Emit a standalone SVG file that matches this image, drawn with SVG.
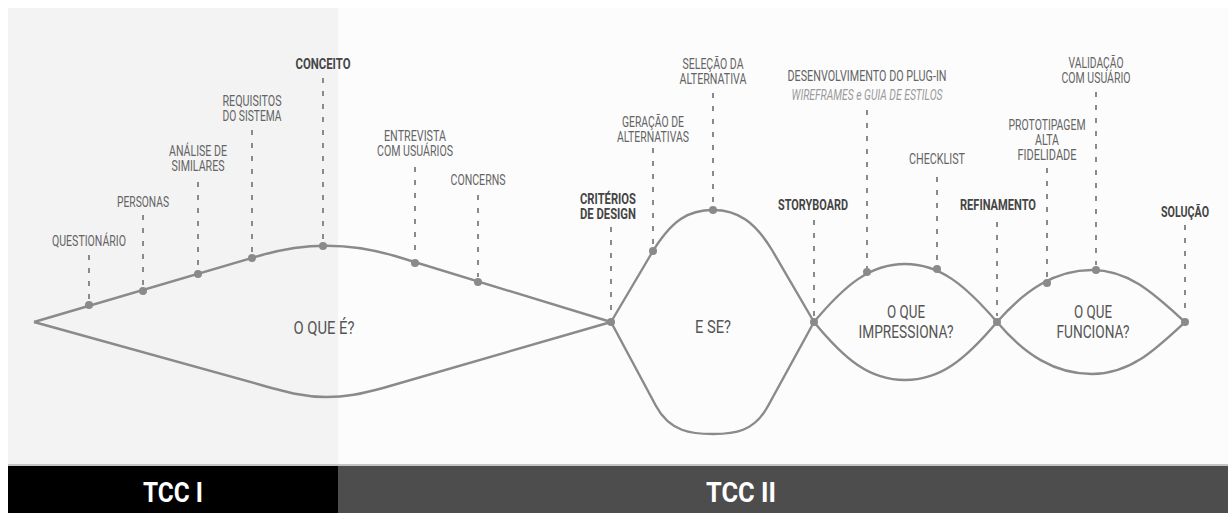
<svg xmlns="http://www.w3.org/2000/svg" width="1228" height="513" viewBox="0 0 1228 513">
  <style>
    text { font-family: Roboto, "Liberation Sans", sans-serif; text-anchor: middle; }
    .lbl { font-size: 15.5px; fill: #646464; }
    .key { font-size: 15.5px; font-weight: bold; fill: #454545; }
    .note { font-size: 14.5px; font-style: italic; fill: #9a9a9a; }
    .phase { font-size: 18px; fill: #555555; }
    .bar { font-size: 28px; font-weight: bold; fill: #ffffff; }
    .curve { fill: none; stroke: #8a8a8a; stroke-width: 2.4; stroke-linejoin: round; }
    .tick { stroke: #8a8a8a; stroke-width: 2; stroke-dasharray: 5 8; }
    .dot { fill: #8a8a8a; }
  </style>

  <!-- backgrounds -->
  <rect x="0" y="0" width="1228" height="513" fill="#ffffff"/>
  <rect x="8" y="8" width="330" height="457" fill="#f3f3f3"/>
  <rect x="338" y="8" width="890" height="457" fill="#fcfcfc"/>
  <rect x="8" y="464" width="1220" height="2" fill="#c4c4c4"/>

  <!-- phase bar -->
  <g id="tcc1">
    <rect x="8" y="466" width="330" height="47" fill="#000000"/>
    <text class="bar" x="173" y="502" textLength="60" lengthAdjust="spacingAndGlyphs">TCC I</text>
  </g>
  <g id="tcc2">
    <rect x="338" y="466" width="890" height="47" fill="#4d4d4d"/>
    <text class="bar" x="741" y="502" textLength="70" lengthAdjust="spacingAndGlyphs">TCC II</text>
  </g>

  <!-- diverge / converge curves -->
  <g id="connectors">
    <path class="curve" d="M34,322 L262,255 C300,244 345,241 395,256 L611,322"/>
    <path class="curve" d="M34,322 L261,385 C290,393 305,397 326,397 C346,397 361,394 383,388 L611,322"/>
    <path class="curve" d="M611,322 L650,256 C672,218 690,210 713,210 C738,210 755,222 772,250 L814,322"/>
    <path class="curve" d="M611,322 L656,406 C670,432 692,434 713,434 C734,434 754,432 768,406 L814,322"/>
    <path class="curve" d="M814,322 C845,285 870,264 905,264 C940,264 965,285 997,322"/>
    <path class="curve" d="M814,322 C845,360 870,380 905,380 C940,380 965,360 997,322"/>
    <path class="curve" d="M997,322 C1025,290 1055,270 1092,270 C1130,270 1155,295 1185,322"/>
    <path class="curve" d="M997,322 C1025,355 1055,374 1092,374 C1130,374 1155,350 1185,322"/>
  </g>

  <!-- phase questions -->
  <g id="phase-o-que-e">
    <text class="phase" x="324" y="334" textLength="61" lengthAdjust="spacingAndGlyphs">O QUE É?</text>
  </g>
  <g id="phase-e-se">
    <text class="phase" x="713" y="333" textLength="36" lengthAdjust="spacingAndGlyphs">E SE?</text>
  </g>
  <g id="phase-impressiona">
    <text class="phase" x="906" y="318" textLength="38" lengthAdjust="spacingAndGlyphs">O QUE</text>
    <text class="phase" x="906" y="338" textLength="95" lengthAdjust="spacingAndGlyphs">IMPRESSIONA?</text>
  </g>
  <g id="phase-funciona">
    <text class="phase" x="1093" y="318" textLength="38" lengthAdjust="spacingAndGlyphs">O QUE</text>
    <text class="phase" x="1093" y="338" textLength="73" lengthAdjust="spacingAndGlyphs">FUNCIONA?</text>
  </g>

  <!-- milestones -->
  <g id="questionario">
    <line class="tick" x1="89" y1="255" x2="89" y2="300"/>
    <circle class="dot" cx="89" cy="305" r="4"/>
    <text class="lbl" x="89" y="246" textLength="74" lengthAdjust="spacingAndGlyphs">QUESTIONÁRIO</text>
  </g>
  <g id="personas">
    <line class="tick" x1="143" y1="215" x2="143" y2="286"/>
    <circle class="dot" cx="143" cy="291" r="4"/>
    <text class="lbl" x="143" y="207" textLength="52" lengthAdjust="spacingAndGlyphs">PERSONAS</text>
  </g>
  <g id="analise-similares">
    <line class="tick" x1="198" y1="182" x2="198" y2="269"/>
    <circle class="dot" cx="198" cy="274" r="4"/>
    <text class="lbl" x="198" y="156" textLength="58" lengthAdjust="spacingAndGlyphs">ANÁLISE DE</text>
    <text class="lbl" x="198" y="171" textLength="53" lengthAdjust="spacingAndGlyphs">SIMILARES</text>
  </g>
  <g id="requisitos">
    <line class="tick" x1="252" y1="130" x2="252" y2="253"/>
    <circle class="dot" cx="252" cy="258" r="4"/>
    <text class="lbl" x="252" y="106" textLength="59" lengthAdjust="spacingAndGlyphs">REQUISITOS</text>
    <text class="lbl" x="252" y="121" textLength="59" lengthAdjust="spacingAndGlyphs">DO SISTEMA</text>
  </g>
  <g id="conceito">
    <line class="tick" x1="323" y1="78" x2="323" y2="241"/>
    <circle class="dot" cx="323" cy="246" r="4"/>
    <text class="key" x="323" y="69" textLength="55" lengthAdjust="spacingAndGlyphs">CONCEITO</text>
  </g>
  <g id="entrevista">
    <line class="tick" x1="415" y1="167" x2="415" y2="258"/>
    <circle class="dot" cx="415" cy="263" r="4"/>
    <text class="lbl" x="415" y="141" textLength="62" lengthAdjust="spacingAndGlyphs">ENTREVISTA</text>
    <text class="lbl" x="415" y="156" textLength="76" lengthAdjust="spacingAndGlyphs">COM USUÁRIOS</text>
  </g>
  <g id="concerns">
    <line class="tick" x1="478" y1="195" x2="478" y2="277"/>
    <circle class="dot" cx="478" cy="282" r="4"/>
    <text class="lbl" x="478" y="185" textLength="55" lengthAdjust="spacingAndGlyphs">CONCERNS</text>
  </g>
  <g id="criterios">
    <line class="tick" x1="611" y1="227" x2="611" y2="316"/>
    <circle class="dot" cx="611" cy="322" r="4"/>
    <text class="key" x="608" y="204" textLength="56" lengthAdjust="spacingAndGlyphs">CRITÉRIOS</text>
    <text class="key" x="608" y="219" textLength="56" lengthAdjust="spacingAndGlyphs">DE DESIGN</text>
  </g>
  <g id="geracao">
    <line class="tick" x1="653" y1="148" x2="653" y2="245"/>
    <circle class="dot" cx="653" cy="251" r="4"/>
    <text class="lbl" x="653" y="127" textLength="62" lengthAdjust="spacingAndGlyphs">GERAÇÃO DE</text>
    <text class="lbl" x="653" y="142" textLength="72" lengthAdjust="spacingAndGlyphs">ALTERNATIVAS</text>
  </g>
  <g id="selecao">
    <line class="tick" x1="713" y1="93" x2="713" y2="205"/>
    <circle class="dot" cx="713" cy="210" r="4"/>
    <text class="lbl" x="713" y="69" textLength="61" lengthAdjust="spacingAndGlyphs">SELEÇÃO DA</text>
    <text class="lbl" x="713" y="84" textLength="67" lengthAdjust="spacingAndGlyphs">ALTERNATIVA</text>
  </g>
  <g id="storyboard">
    <line class="tick" x1="814" y1="220" x2="814" y2="316"/>
    <circle class="dot" cx="814" cy="322" r="4"/>
    <text class="key" x="813" y="210" textLength="70" lengthAdjust="spacingAndGlyphs">STORYBOARD</text>
  </g>
  <g id="plugin">
    <line class="tick" x1="867" y1="110" x2="867" y2="268"/>
    <circle class="dot" cx="867" cy="272" r="4"/>
    <text class="lbl" x="867" y="81" textLength="159" lengthAdjust="spacingAndGlyphs">DESENVOLVIMENTO DO PLUG-IN</text>
    <text class="note" x="867" y="100" textLength="151" lengthAdjust="spacingAndGlyphs">WIREFRAMES e GUIA DE ESTILOS</text>
  </g>
  <g id="checklist">
    <line class="tick" x1="937" y1="177" x2="937" y2="264"/>
    <circle class="dot" cx="937" cy="269" r="4"/>
    <text class="lbl" x="937" y="164" textLength="56" lengthAdjust="spacingAndGlyphs">CHECKLIST</text>
  </g>
  <g id="refinamento">
    <line class="tick" x1="997" y1="222" x2="997" y2="316"/>
    <circle class="dot" cx="997" cy="322" r="4"/>
    <text class="key" x="998" y="210" textLength="76" lengthAdjust="spacingAndGlyphs">REFINAMENTO</text>
  </g>
  <g id="prototipagem">
    <line class="tick" x1="1047" y1="168" x2="1047" y2="278"/>
    <circle class="dot" cx="1047" cy="283" r="4"/>
    <text class="lbl" x="1047" y="130" textLength="77" lengthAdjust="spacingAndGlyphs">PROTOTIPAGEM</text>
    <text class="lbl" x="1047" y="145" textLength="24" lengthAdjust="spacingAndGlyphs">ALTA</text>
    <text class="lbl" x="1047" y="160" textLength="59" lengthAdjust="spacingAndGlyphs">FIDELIDADE</text>
  </g>
  <g id="validacao">
    <line class="tick" x1="1096" y1="92" x2="1096" y2="265"/>
    <circle class="dot" cx="1096" cy="270" r="4"/>
    <text class="lbl" x="1096" y="68" textLength="55" lengthAdjust="spacingAndGlyphs">VALIDAÇÃO</text>
    <text class="lbl" x="1096" y="83" textLength="69" lengthAdjust="spacingAndGlyphs">COM USUÁRIO</text>
  </g>
  <g id="solucao">
    <line class="tick" x1="1185" y1="225" x2="1185" y2="316"/>
    <circle class="dot" cx="1185" cy="322" r="4"/>
    <text class="key" x="1185" y="217" textLength="48" lengthAdjust="spacingAndGlyphs">SOLUÇÃO</text>
  </g>
</svg>
